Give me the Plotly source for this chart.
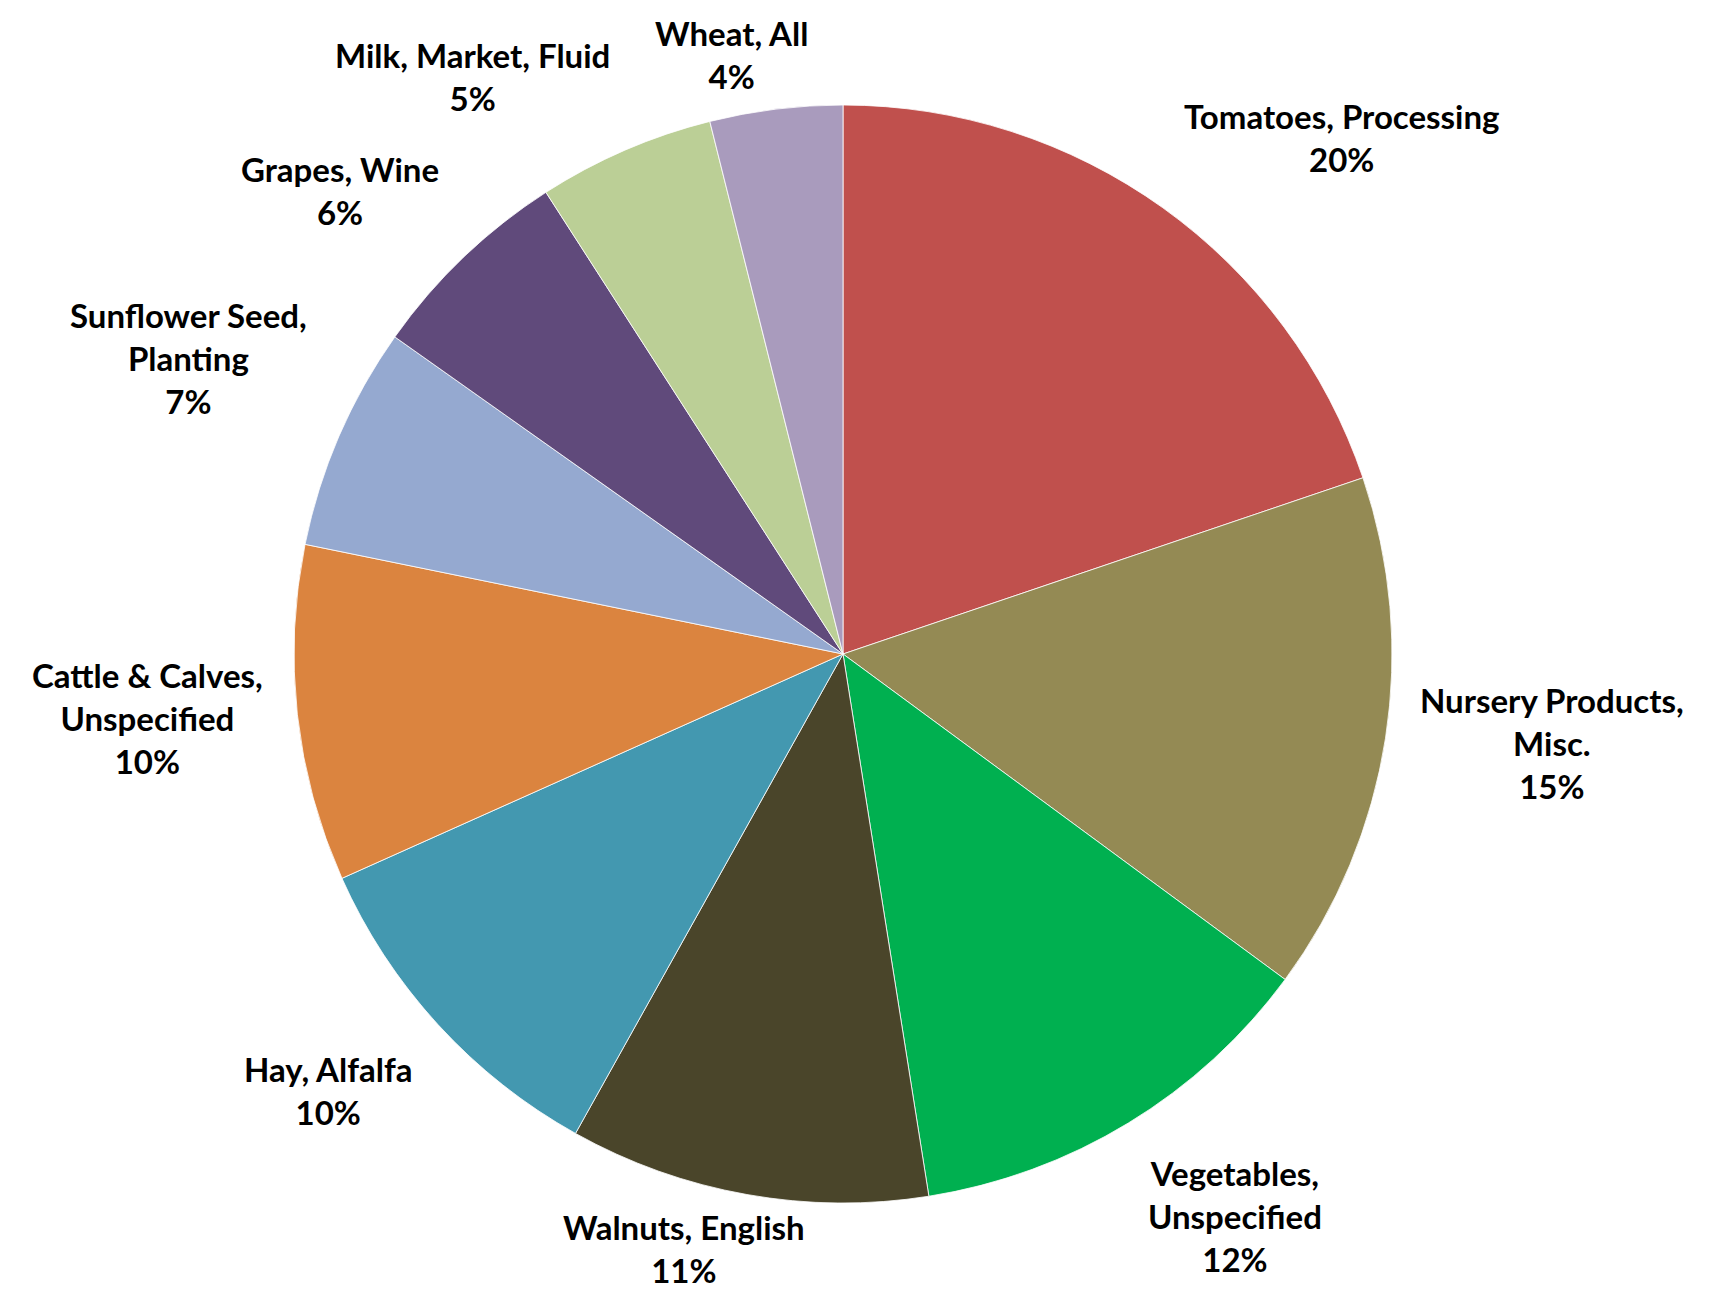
import math
import plotly.graph_objects as go

# values, clockwise from 12 o'clock
labels = ["Tomatoes, Processing", "Nursery Products,<br>Misc.", "Vegetables,<br>Unspecified",
          "Walnuts, English", "Hay, Alfalfa", "Cattle & Calves,<br>Unspecified",
          "Sunflower Seed,<br>Planting", "Grapes, Wine", "Milk, Market, Fluid", "Wheat, All"]
shares = [19.8, 15.3, 12.4, 10.6, 10.2, 9.9, 6.6, 6.1, 5.2, 3.9]
colors = ["#C0504D", "#948A54", "#00B050", "#4A452A", "#4398B0",
          "#DB843F", "#95A9D0", "#604A7B", "#BBCF96", "#A99BBD"]

W, H = 1721, 1306
cx, cy, r = 835, 646, 549

fig = go.Figure(go.Pie(
    labels=labels, values=shares, sort=False, direction="clockwise", rotation=0,
    marker=dict(colors=colors, line=dict(color="white", width=0.8)),
    textinfo="none", hoverinfo="label+percent",
    domain=dict(x=[(cx - r) / W, (cx + r) / W], y=[1 - (cy + r) / H, 1 - (cy - r) / H]),
))

# outside-end labels, placed from each slice's mid angle
total = sum(shares)
cum = 0
for lab, v in zip(labels, shares):
    mid = (cum + v / 2) / total * 2 * math.pi
    cum += v
    s, c = math.sin(mid), math.cos(mid)
    xa = "center" if abs(s) < 0.3 else ("left" if s > 0 else "right")
    ya = "middle" if abs(c) < 0.35 else ("bottom" if c > 0 else "top")
    k = 1.02 if xa == "center" else 1.06
    px = cx + k * r * s
    py = cy - k * r * c
    fig.add_annotation(
        x=px / W, y=1 - py / H, xref="paper", yref="paper",
        text=f"{lab}<br>{round(v / total * 100)}%", showarrow=False,
        xanchor=xa, yanchor=ya, align="center",
        xshift=350 * s if xa == "center" else 0,
        font=dict(family="Lato", size=33, color="black", weight="bold"),
    )

fig.update_layout(
    width=W, height=H, showlegend=False,
    margin=dict(l=0, r=0, t=0, b=0),
    paper_bgcolor="white", plot_bgcolor="white",
)

fig.write_html("out.html")
